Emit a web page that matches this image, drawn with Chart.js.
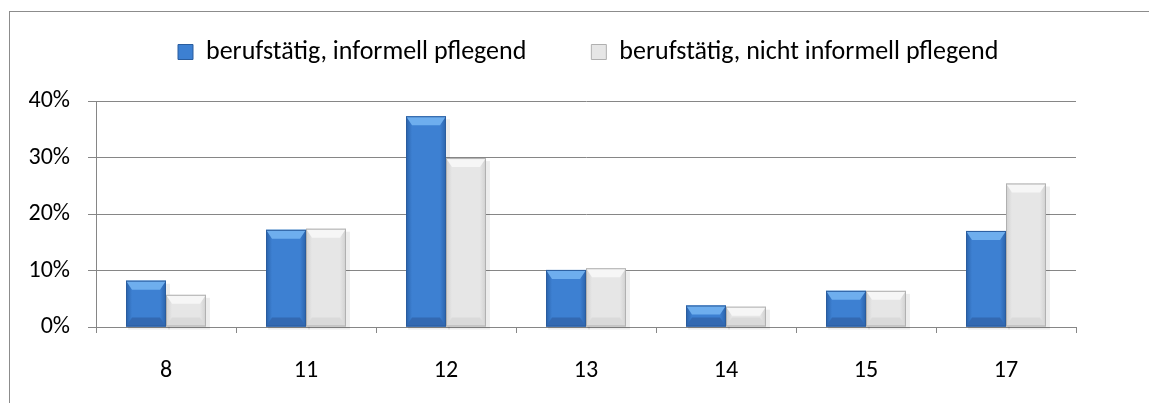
<!DOCTYPE html>
<html>
<head>
<meta charset="utf-8">
<script src="https://cdn.jsdelivr.net/npm/chart.js@4"></script>
<style>
  html, body { margin: 0; padding: 0; background: #fff; }
  #wrap { position: relative; width: 1149px; height: 403px; overflow: hidden; }
  #frame { position: absolute; left: 9px; top: 11px; width: 1200px; height: 500px; border: 1px solid #8c8c8c; border-width: 1px 0 0 1px; }
  canvas { position: absolute; left: 0; top: 0; }
</style>
</head>
<body>
<div id="wrap">
  <div id="frame"></div>
  <canvas id="chart" width="1149" height="403"></canvas>
</div>
<script>
const categories = ['8', '11', '12', '13', '14', '15', '17'];
const seriesNames = ['berufstätig, informell pflegend', 'berufstätig, nicht informell pflegend'];
const pflegend = [8.2, 17.2, 37.3, 10.1, 3.8, 6.4, 17.0];
const nichtPflegend = [5.7, 17.4, 29.9, 10.4, 3.6, 6.4, 25.4];
const yTicks = [0, 10, 20, 30, 40];

const fontFamily = "Carlito, Lato, 'Open Sans', sans-serif";

// bevel look like the office chart, drawn over each bar element
const palettes = [
    { side: '#2a62aa', body: '#3d80d2', top: '#6eaeee', bottom: '#3369b2', edge: '#2a5d9e' },
    { side: '#d0d0d0', body: '#e6e6e6', top: '#f6f6f6', bottom: '#dadada', edge: '#b0b0b0' }
];

const bevelPlugin = {
    id: 'bevel',
    afterDatasetsDraw(chart) {
        const ctx = chart.ctx;
        chart.data.datasets.forEach((ds, di) => {
            const meta = chart.getDatasetMeta(di);
            const p = palettes[di];
            meta.data.forEach(bar => {
                const { x, y, base, width } = bar.getProps(['x', 'y', 'base', 'width'], true);
                const l = x - width / 2, r = x + width / 2;
                const h = base - y;
                const b = Math.min(9, h / 2.2), s = Math.min(6, width / 6);
                ctx.save();
                // soft shadow
                ctx.fillStyle = 'rgba(0,0,0,0.07)';
                ctx.fillRect(l + 2, y + 3, width + 2, h);
                // body
                const g = ctx.createLinearGradient(l, 0, r, 0);
                g.addColorStop(0, p.side);
                g.addColorStop(0.15, p.body);
                g.addColorStop(0.85, p.body);
                g.addColorStop(1, p.side);
                ctx.fillStyle = g;
                ctx.fillRect(l, y, width, h);
                // top bevel
                ctx.fillStyle = p.top;
                ctx.beginPath();
                ctx.moveTo(l, y); ctx.lineTo(r, y); ctx.lineTo(r - s, y + b); ctx.lineTo(l + s, y + b);
                ctx.closePath(); ctx.fill();
                // bottom bevel
                ctx.fillStyle = p.bottom;
                ctx.beginPath();
                ctx.moveTo(l, base); ctx.lineTo(r, base); ctx.lineTo(r - s, base - b); ctx.lineTo(l + s, base - b);
                ctx.closePath(); ctx.fill();
                ctx.strokeStyle = p.edge;
                ctx.lineWidth = 1;
                ctx.strokeRect(l + 0.5, y + 0.5, width - 1, h - 1);
                ctx.restore();
            });
        });
    }
};

// legend sits above the plot, shifted right like the original
const legendPlace = {
    id: 'legendPlace',
    beforeLayout(chart) {
        const lg = chart.legend;
        if (lg && !lg._patched) {
            const fit = lg.fit;
            lg.fit = function () { fit.call(this); this.height = 101; };
            lg._patched = true;
        }
    },
    afterLayout(chart) {
        chart.legend.left = 113;
        chart.legend.top = -26;
    }
};

new Chart(document.getElementById('chart'), {
    type: 'bar',
    data: {
        labels: categories,
        datasets: [
            { label: seriesNames[0], data: pflegend, backgroundColor: palettes[0].body, borderColor: palettes[0].edge, borderWidth: 1 },
            { label: seriesNames[1], data: nichtPflegend, backgroundColor: palettes[1].body, borderColor: palettes[1].edge, borderWidth: 1 }
        ]
    },
    options: {
        responsive: false,
        animation: false,
        layout: { padding: { left: 0, right: 73, top: 0, bottom: 0 } },
        datasets: { bar: { categoryPercentage: 0.571, barPercentage: 1 } },
        plugins: {
            tooltip: { enabled: false },
            legend: {
                position: 'top',
                align: 'start',
                labels: {
                    color: '#000',
                    font: { family: fontFamily, size: 26 },
                    boxWidth: 15,
                    boxHeight: 15,
                    padding: 65,
                    generateLabels(chart) {
                        return chart.data.datasets.map((ds, i) => ({
                            text: ds.label,
                            fillStyle: palettes[i].body,
                            strokeStyle: palettes[i].edge,
                            lineWidth: 1,
                            datasetIndex: i
                        }));
                    }
                }
            }
        },
        scales: {
            x: {
                grid: { display: true, drawOnChartArea: false, offset: true, color: '#868686', tickLength: 6 },
                border: { color: '#868686', width: 1 },
                ticks: { color: '#000', font: { family: fontFamily, size: 24 }, padding: 24 },
                afterFit(scale) { scale.height = 76; }
            },
            y: {
                min: 0,
                max: 40,
                afterBuildTicks(scale) { scale.ticks = yTicks.map(v => ({ value: v })); },
                grid: { color: '#868686', tickLength: 8 },
                border: { color: '#868686', width: 1 },
                ticks: { color: '#000', font: { family: fontFamily, size: 24 }, padding: 18, callback: v => v + '%' },
                afterFit(scale) { scale.width = 96; }
            }
        }
    },
    plugins: [bevelPlugin, legendPlace]
});
</script>
</body>
</html>
